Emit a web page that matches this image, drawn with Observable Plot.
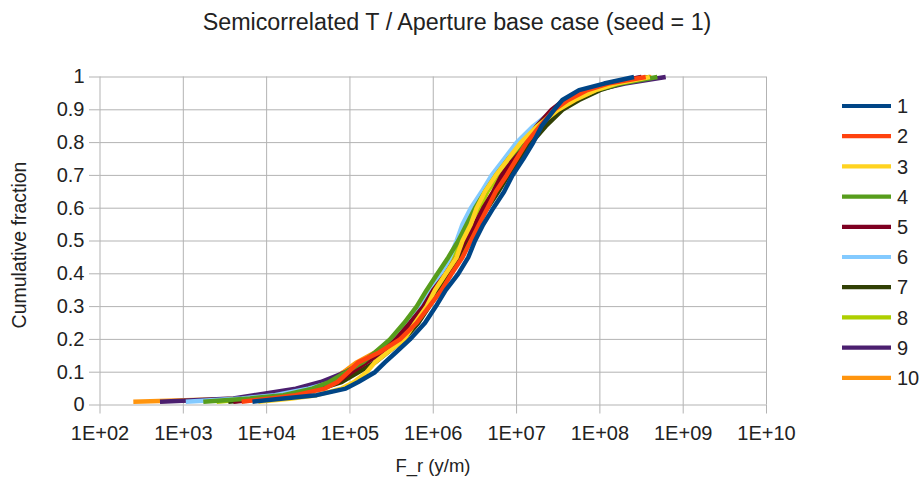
<!DOCTYPE html>
<html>
<head>
<meta charset="utf-8">
<script src="https://cdn.jsdelivr.net/npm/d3@7"></script>
<script src="https://cdn.jsdelivr.net/npm/@observablehq/plot@0.6"></script>
<style>
  html, body { margin: 0; padding: 0; background: #fff; }
  #chart { width: 924px; height: 486px; font-family: "Liberation Sans", Arial, sans-serif; }
</style>
</head>
<body>
<div id="chart"></div>
<script>
// Cumulative fraction levels (shared by all series)
const fracs = [0.01, 0.02, 0.03, 0.05, 0.07, 0.10, 0.13, 0.16, 0.20, 0.25, 0.30, 0.35, 0.40, 0.45, 0.50, 0.55, 0.60, 0.65, 0.70, 0.75, 0.80, 0.85, 0.90, 0.93, 0.96, 0.98, 1.00];

// log10(F_r) for each realisation
const s1  = [3.83, 4.20, 4.60, 4.95, 5.10, 5.30, 5.42, 5.55, 5.72, 5.90, 6.03, 6.15, 6.30, 6.42, 6.50, 6.60, 6.72, 6.85, 6.95, 7.08, 7.20, 7.30, 7.45, 7.55, 7.75, 8.05, 8.41];
const s2  = [3.70, 4.05, 4.35, 4.70, 4.85, 4.98, 5.10, 5.35, 5.60, 5.80, 5.95, 6.10, 6.22, 6.35, 6.45, 6.55, 6.65, 6.75, 6.88, 7.00, 7.12, 7.28, 7.45, 7.62, 7.85, 8.10, 8.55];
const s3  = [3.90, 4.30, 4.60, 4.90, 5.05, 5.20, 5.30, 5.45, 5.65, 5.78, 5.92, 6.02, 6.15, 6.28, 6.35, 6.45, 6.52, 6.62, 6.75, 6.90, 7.05, 7.25, 7.50, 7.70, 7.95, 8.20, 8.60];
const s4  = [3.24, 3.80, 4.20, 4.55, 4.75, 4.95, 5.15, 5.30, 5.48, 5.65, 5.80, 5.92, 6.05, 6.18, 6.30, 6.40, 6.50, 6.62, 6.75, 6.90, 7.08, 7.25, 7.48, 7.68, 7.95, 8.25, 8.69];
const s5  = [3.60, 4.00, 4.30, 4.60, 4.85, 5.02, 5.20, 5.38, 5.55, 5.72, 5.88, 6.00, 6.15, 6.28, 6.38, 6.50, 6.60, 6.72, 6.82, 6.95, 7.10, 7.24, 7.42, 7.57, 7.80, 8.10, 8.50];
const s6  = [3.03, 3.70, 4.10, 4.50, 4.80, 5.00, 5.18, 5.35, 5.55, 5.70, 5.85, 5.98, 6.10, 6.20, 6.28, 6.35, 6.45, 6.58, 6.70, 6.85, 7.00, 7.20, 7.45, 7.65, 7.90, 8.15, 8.50];
const s7  = [3.54, 3.95, 4.30, 4.65, 4.90, 5.10, 5.30, 5.45, 5.65, 5.82, 5.95, 6.08, 6.20, 6.32, 6.42, 6.52, 6.65, 6.78, 6.90, 7.05, 7.18, 7.35, 7.55, 7.75, 8.00, 8.25, 8.60];
const s8  = [3.40, 3.85, 4.20, 4.55, 4.80, 5.00, 5.18, 5.35, 5.55, 5.72, 5.85, 5.98, 6.10, 6.22, 6.32, 6.42, 6.55, 6.65, 6.78, 6.92, 7.08, 7.25, 7.48, 7.65, 7.90, 8.15, 8.60];
const s9  = [2.72, 3.60, 3.85, 4.35, 4.65, 4.95, 5.15, 5.35, 5.55, 5.75, 5.90, 6.03, 6.18, 6.30, 6.42, 6.52, 6.62, 6.75, 6.85, 7.00, 7.12, 7.28, 7.50, 7.70, 7.95, 8.30, 8.79];
const s10 = [2.40, 3.75, 4.10, 4.50, 4.75, 4.92, 5.08, 5.30, 5.55, 5.75, 5.90, 6.05, 6.18, 6.30, 6.40, 6.50, 6.60, 6.72, 6.85, 6.98, 7.12, 7.30, 7.50, 7.68, 7.92, 8.20, 8.62];

const seriesNames  = ["1", "2", "3", "4", "5", "6", "7", "8", "9", "10"];
const seriesColors = ["#004586", "#ff420e", "#ffd320", "#579d1c", "#7e0021", "#83caff", "#314004", "#aecf00", "#4b1f6f", "#ff950e"];
const seriesValues = [s1, s2, s3, s4, s5, s6, s7, s8, s9, s10];

const xTickValues = [1e2, 1e3, 1e4, 1e5, 1e6, 1e7, 1e8, 1e9, 1e10];
const xTickLabels = ["1E+02", "1E+03", "1E+04", "1E+05", "1E+06", "1E+07", "1E+08", "1E+09", "1E+10"];
const yTickValues = [0, 0.1, 0.2, 0.3, 0.4, 0.5, 0.6, 0.7, 0.8, 0.9, 1];
const yTickLabels = ["0", "0.1", "0.2", "0.3", "0.4", "0.5", "0.6", "0.7", "0.8", "0.9", "1"];

const titleText = "Semicorrelated T / Aperture base case (seed = 1)";
const xLabel = "F_r (y/m)";
const yLabel = "Cumulative fraction";

// Build table; later series drawn first so series 1 ends on top
const rows = [];
for (let i = seriesValues.length - 1; i >= 0; i--) {
  seriesValues[i].forEach((v, j) => rows.push({series: seriesNames[i], x: Math.pow(10, v), y: fracs[j]}));
}

const xLabelOf = d => xTickLabels[Math.round(Math.log10(d)) - 2];
const yLabelOf = d => yTickLabels[Math.round(d * 10)];

const W = 924, H = 486;
const mL = 99.5, mR = W - 766, mT = 76.5, mB = H - 404.5;
const font = '"Liberation Sans", Arial, sans-serif';
const grid = "#b3b3b3";
const ink = "#222";

const plot = Plot.plot({
  width: W, height: H,
  marginLeft: mL, marginRight: mR, marginTop: mT, marginBottom: mB,
  style: {fontFamily: font, background: "#fff", overflow: "visible"},
  x: {type: "log", domain: [1e2, 1e10]},
  y: {domain: [0, 1]},
  color: {domain: seriesNames, range: seriesColors},
  marks: [
    Plot.gridX(xTickValues, {stroke: grid, strokeOpacity: 1, strokeWidth: 1}),
    Plot.gridY(yTickValues, {stroke: grid, strokeOpacity: 1, strokeWidth: 1}),
    Plot.axisX(xTickValues, {tickFormat: xLabelOf, tickSize: 9, tickPadding: 12,
      stroke: grid, fill: ink, fontSize: 20, label: null}),
    Plot.axisY(yTickValues, {tickFormat: yLabelOf, tickSize: 10.5, tickPadding: 5,
      stroke: grid, fill: ink, fontSize: 20, label: null}),
    Plot.line(rows, {x: "x", y: "y", z: "series", stroke: "series", strokeWidth: 4.5,
      strokeLinejoin: "round", strokeLinecap: "butt"})
  ]
});

document.getElementById("chart").appendChild(plot);

const svg = d3.select(plot);
svg.append("text").attr("x", 457).attr("y", 30).attr("text-anchor", "middle")
  .attr("font-family", font).attr("font-size", 23.3).attr("fill", ink).text(titleText);
svg.append("text").attr("x", 433).attr("y", 472).attr("text-anchor", "middle")
  .attr("font-family", font).attr("font-size", 18.5).attr("fill", ink).text(xLabel);
svg.append("text").attr("transform", "translate(26,245) rotate(-90)").attr("text-anchor", "middle")
  .attr("font-family", font).attr("font-size", 19.5).attr("fill", ink).text(yLabel);

// Legend
const lg = svg.append("g");
seriesNames.forEach((name, i) => {
  const cy = 106 + i * 30.2;
  lg.append("line").attr("x1", 842).attr("x2", 891).attr("y1", cy).attr("y2", cy)
    .attr("stroke", seriesColors[i]).attr("stroke-width", 4.2);
  lg.append("text").attr("x", 897).attr("y", cy).attr("dy", "0.36em").attr("text-anchor", "start")
    .attr("font-family", font).attr("font-size", 20).attr("fill", ink).text(name);
});
</script>
</body>
</html>
